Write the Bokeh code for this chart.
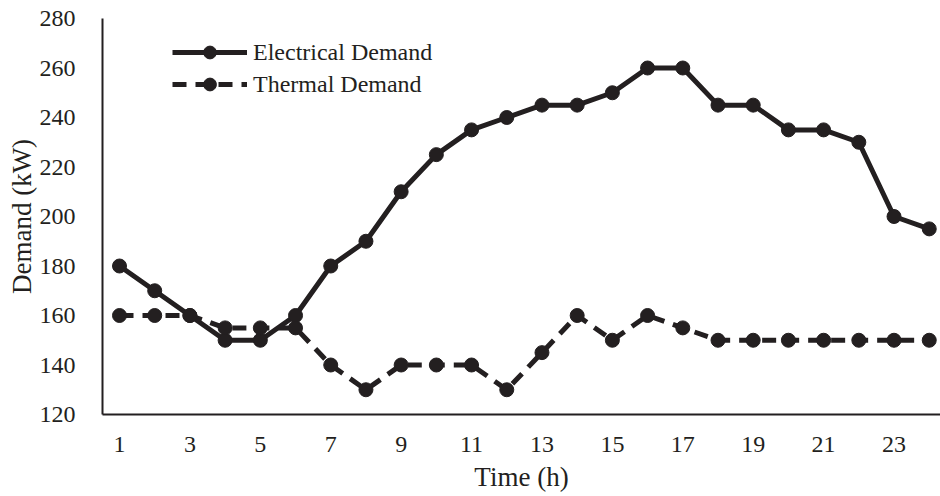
from bokeh.plotting import figure
from bokeh.models import Range1d, FixedTicker, Legend, LegendItem
from bokeh.embed import file_html
from bokeh.resources import INLINE

hours = list(range(1, 25))
electrical = [180, 170, 160, 150, 150, 160, 180, 190, 210, 225, 235, 240,
              245, 245, 250, 260, 260, 245, 245, 235, 235, 230, 200, 195]
thermal = [160, 160, 160, 155, 155, 155, 140, 130, 140, 140, 140, 130,
           145, 160, 150, 160, 155, 150, 150, 150, 150, 150, 150, 150]
x_ticks = list(range(1, 25, 2))
y_ticks = [120, 140, 160, 180, 200, 220, 240, 260, 280]

FONT = "Liberation Serif"
COL = "#231f20"

p = figure(width=940, height=496, output_backend="svg", toolbar_location=None,
           x_range=Range1d(0.517, 24.32), y_range=Range1d(120, 280),
           min_border_left=102, min_border_top=18, min_border_right=0, min_border_bottom=82)
p.grid.grid_line_color = None
p.outline_line_color = None
p.background_fill_color = "white"

for ax in (p.xaxis[0], p.yaxis[0]):
    ax.major_tick_line_color = None
    ax.minor_tick_line_color = None
    ax.axis_line_color = COL
    ax.axis_line_width = 2
    ax.major_label_text_font = FONT
    ax.major_label_text_font_size = "24px"
    ax.major_label_text_color = COL
    ax.axis_label_text_font = FONT
    ax.axis_label_text_font_size = "27px"
    ax.axis_label_text_font_style = "normal"
    ax.axis_label_text_color = COL

p.xaxis.ticker = FixedTicker(ticks=x_ticks)
p.yaxis.ticker = FixedTicker(ticks=y_ticks)
p.xaxis.axis_label = "Time (h)"
p.yaxis.axis_label = "Demand (kW)"
p.xaxis.major_label_standoff = 16
p.yaxis.major_label_standoff = 21
p.xaxis.axis_label_standoff = 7
p.yaxis.axis_label_standoff = 0

l1 = p.line(hours, electrical, line_color=COL, line_width=5)
s1 = p.scatter(hours, electrical, size=14, fill_color=COL, line_color=COL)
l2 = p.line(hours, thermal, line_color=COL, line_width=5, line_dash="14 9")
s2 = p.scatter(hours, thermal, size=14, fill_color=COL, line_color=COL)

legend = Legend(items=[LegendItem(label="Electrical Demand", renderers=[l1, s1]),
                       LegendItem(label="Thermal Demand", renderers=[l2, s2])],
                location=(70, 314), border_line_color=None, background_fill_alpha=0,
                padding=0, margin=0, spacing=0, glyph_width=75, glyph_height=32,
                label_height=31, label_standoff=6,
                label_text_font=FONT, label_text_font_size="24px", label_text_color=COL)
p.add_layout(legend, "center")

open("out.html", "w").write(file_html(p, INLINE))
